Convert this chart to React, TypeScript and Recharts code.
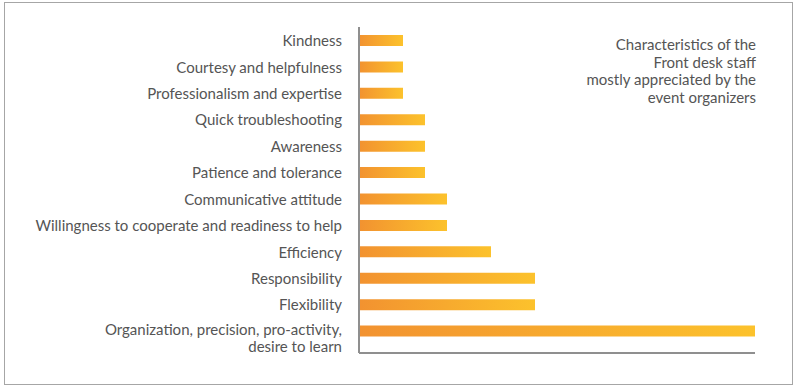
import React from 'react';
import { BarChart, Bar, XAxis, YAxis } from 'recharts';

const categories = [
  'Kindness',
  'Courtesy and helpfulness',
  'Professionalism and expertise',
  'Quick troubleshooting',
  'Awareness',
  'Patience and tolerance',
  'Communicative attitude',
  'Willingness to cooperate and readiness to help',
  'Efficiency',
  'Responsibility',
  'Flexibility',
  'Organization, precision, pro-activity,\ndesire to learn',
];
const values = [2, 2, 2, 3, 3, 3, 4, 4, 6, 8, 8, 18];
const titleLines = ['Characteristics of the', 'Front desk staff', 'mostly appreciated by the', 'event organizers'];

const data = categories.map((c, i) => ({ name: c, value: values[i] }));

const FONT = 'Lato, "Open Sans", sans-serif';
const TEXT = '#555555';

const Tick = (props: any) => {
  const { x, y, payload } = props;
  const lines = String(payload.value).split('\n');
  const off = lines.length > 1 ? -2 : 0;
  return (
    <g>
      {lines.map((l: string, i: number) => (
        <text
          key={i}
          x={x}
          y={y + off + i * 17}
          textAnchor="end"
          dominantBaseline="central"
          fill={TEXT}
          fontSize={15}
          fontFamily={FONT}
        >
          {l}
        </text>
      ))}
    </g>
  );
};

export default function App() {
  return (
    <div style={{ position: 'absolute', left: 0, top: 0, width: 800, height: 389, background: '#fff' }}>
      <div
        style={{
          position: 'absolute',
          left: 4,
          top: 2,
          width: 789,
          height: 383,
          border: '1px solid #a6a6a6',
          boxSizing: 'border-box',
        }}
      />
      <div style={{ position: 'absolute', left: 0, top: 0 }}>
        <BarChart
          width={800}
          height={389}
          data={data}
          layout="vertical"
          margin={{ top: 27, right: 45, bottom: 35, left: 0 }}
        >
          <defs>
            <linearGradient id="barGrad" x1="0" y1="0" x2="1" y2="0">
              <stop offset="0%" stopColor="#F29230" />
              <stop offset="100%" stopColor="#FCC22C" />
            </linearGradient>
          </defs>
          <XAxis
            type="number"
            domain={[0, 18]}
            tick={false}
            tickLine={false}
            height={1}
            axisLine={{ stroke: '#8f8f8f', strokeWidth: 2 }}
          />
          <YAxis
            type="category"
            dataKey="name"
            width={359}
            interval={0}
            tickLine={false}
            tickMargin={11}
            padding={{ top: 0, bottom: 9 }}
            axisLine={{ stroke: '#8f8f8f', strokeWidth: 2 }}
            tick={<Tick />}
          />
          <Bar dataKey="value" fill="url(#barGrad)" barSize={11} isAnimationActive={false} />
        </BarChart>
      </div>
      <div
        style={{
          position: 'absolute',
          right: 44,
          top: 36,
          textAlign: 'right',
          fontFamily: FONT,
          fontSize: 15,
          lineHeight: '17.5px',
          color: TEXT,
        }}
      >
        {titleLines.map((t, i) => (
          <div key={i}>{t}</div>
        ))}
      </div>
    </div>
  );
}
